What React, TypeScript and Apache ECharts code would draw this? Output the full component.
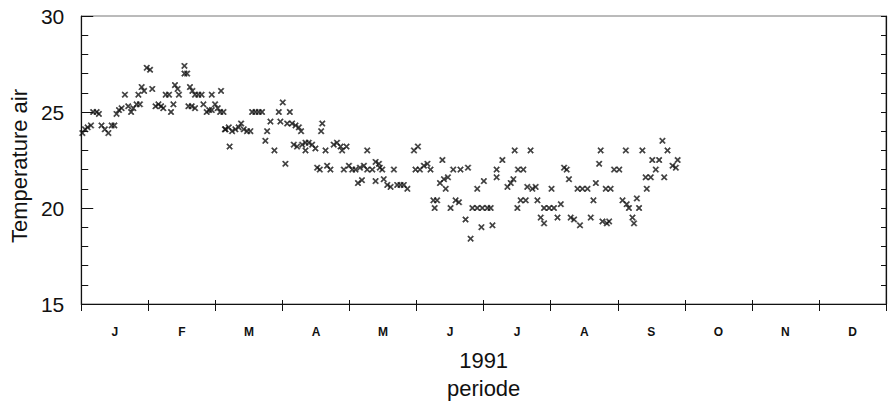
import React, { useEffect, useRef } from "react";
import * as echarts from "echarts";

// x: day of year 1991, y: air temperature (°C)
const months = ["J", "F", "M", "A", "M", "J", "J", "A", "S", "O", "N", "D"];
const yMin = 15;
const yMax = 30;
const xAxisTitle = "1991\nperiode";
const yAxisTitle = "Temperature air";

const janFeb: [number, number][] = [
  [0.5, 23.9], [1.7, 24.1], [2.9, 24.2], [4.4, 24.3], [5.4, 25.0], [7, 25.0], [8, 24.9],
  [9.2, 24.3], [10.7, 24.1], [12.3, 23.9], [13.8, 24.3], [15, 24.3], [16, 24.9], [17.1, 25.1],
  [18.3, 25.2], [19.8, 25.9], [21.3, 25.3], [22.6, 25.0], [23.6, 25.2], [25.1, 25.4], [25.9, 25.9],
  [26.6, 25.4], [27.4, 26.3], [28.5, 26.1], [29.7, 27.3], [31.2, 27.2], [32.2, 26.2], [33.7, 25.3],
  [35, 25.4], [36.2, 25.3], [37.2, 25.2], [38.3, 25.9], [39.8, 25.9], [40.7, 25.0], [41.8, 25.4],
  [42.5, 26.4], [43.7, 26.2], [44.3, 25.9], [46.8, 27.4], [46.8, 27.0], [48, 27.0], [49.3, 26.3],
  [50.4, 26.1], [51.6, 25.9], [53.1, 25.9], [54.6, 25.9], [48.6, 25.3], [50.1, 25.3], [51.6, 25.2],
  [55.4, 25.4], [56.9, 25.0], [58, 25.1], [59.2, 25.9], [59.2, 25.1], [60.7, 25.4], [61.9, 25.2],
  [63.4, 26.1], [63, 25.0], [64.5, 25.0],
];

const marApr: [number, number][] = [
  [65.2, 24.1], [65.4, 24.1], [66.9, 24.2], [68.4, 24.0], [69.9, 24.1], [71.4, 24.2], [72.5, 24.4],
  [73.7, 24.1], [75.2, 24.0], [76.7, 24.0], [67.3, 23.2], [77.5, 25.0], [79, 25.0], [80.5, 25.0],
  [82, 25.0], [84.3, 24.0], [83.5, 23.5], [85.8, 24.5], [87.6, 23.0], [89.6, 25.0], [91.4, 25.5],
  [90.3, 24.5], [92.6, 22.3], [94.6, 25.0], [93.4, 24.4], [95.6, 24.4], [97.2, 24.3], [98.7, 24.2],
  [99.7, 24.0], [96.4, 23.3], [97.9, 23.2], [100.2, 23.3], [101.7, 23.4], [103.2, 23.4], [104.7, 23.3],
  [106.2, 23.1], [101.7, 23.0], [109.3, 24.4], [108.8, 24.0], [107, 22.1], [108.2, 22.0], [110.8, 23.0],
  [111.5, 22.2], [113, 22.0], [114.5, 23.3], [116, 23.4], [117.6, 23.2], [118.3, 23.0], [120.3, 23.2],
];

const mayJun: [number, number][] = [
  [119.1, 22.0], [121.4, 22.2], [122.9, 22.0], [124.4, 22.0], [126.4, 22.1], [128.2, 22.2], [129.7, 22.0],
  [125.5, 21.3], [127.3, 21.45], [129.7, 23.0], [133.5, 22.4], [135, 22.3], [136.5, 22.0], [135.4, 22.1],
  [132, 22.0], [133.5, 21.4], [137.2, 21.5], [138.8, 21.2], [140.3, 21.1], [141.8, 22.0], [143.3, 21.2],
  [144.8, 21.2], [146.3, 21.2], [147.9, 21.0], [150.9, 23.0], [152.7, 23.2], [151.6, 22.0], [153.6, 22.0],
  [155.4, 22.2], [157, 22.3], [158.4, 22.0], [163.8, 22.5], [168.7, 22.0], [172, 22.0], [175.4, 22.1],
  [162.7, 21.3], [164.5, 21.5], [166.3, 21.6], [165.3, 21.0], [159.7, 20.4], [161.4, 20.4], [160.3, 20.0],
  [167.5, 20.0], [169.8, 20.4], [171.3, 20.3], [174.3, 19.4], [176.6, 18.4], [177.4, 20.0], [179.6, 20.0],
  [181.9, 20.0], [184.2, 20.0], [185.7, 20.0], [179.6, 21.0], [182.6, 21.4], [181.5, 19.0],
];

const julSep: [number, number][] = [
  [186.5, 19.1], [188.4, 22.0], [191, 22.5], [188.4, 21.6], [193.3, 21.1], [194.8, 21.3], [196, 21.5],
  [196.6, 23.0], [198.1, 22.0], [200.5, 22.0], [197.8, 20.0], [199.3, 20.4], [201.6, 20.4], [202.3, 21.1],
  [203.8, 23.0], [204.6, 21.0], [206.1, 21.1], [206.9, 20.4], [208.4, 19.5], [209.9, 19.2], [209.9, 20.0],
  [212.2, 20.0], [214.4, 20.0], [217.5, 20.2], [213.3, 21.0], [216, 19.5], [219, 22.1], [220.2, 22.0],
  [221.2, 21.5], [222, 19.5], [223.5, 19.4], [226.2, 19.1], [225.1, 21.0], [227.3, 21.0], [229.6, 21.0],
  [231.1, 19.5], [232.3, 20.4], [233.4, 21.3], [234.9, 22.3], [235.6, 23.0], [236.4, 19.3], [238.4, 19.2],
  [239.4, 19.3], [237.9, 21.0], [240.1, 21.0], [241.7, 22.0], [244, 22.0], [245.5, 20.4], [247.4, 20.2],
  [248.4, 20.0], [247, 23.0], [250, 19.5], [250.7, 19.2], [252, 20.5], [253, 20.0], [254.5, 23.0],
  [256.5, 21.0], [256, 21.6], [258.3, 21.6], [260.6, 22.0], [259, 22.5], [262.1, 22.5], [263.6, 23.5],
  [264.4, 21.6], [265.9, 23.0], [268.2, 22.2], [269.7, 22.1], [270.5, 22.5],
];

const CROSS =
  "path://M0,1.5L1.5,0L5,3.5L8.5,0L10,1.5L6.5,5L10,8.5L8.5,10L5,6.5L1.5,10L0,8.5L3.5,5Z";

const FONT = "'Liberation Sans', Arial, Helvetica, sans-serif";

export default function App() {
  const ref = useRef<HTMLDivElement>(null);

  useEffect(() => {
    if (!ref.current) return;
    const chart = echarts.init(ref.current, null, { renderer: "svg" });
    const allPoints = [...janFeb, ...marApr, ...mayJun, ...julSep];
    chart.setOption({
      animation: false,
      backgroundColor: "#ffffff",
      textStyle: { fontFamily: FONT, color: "#111" },
      grid: {
        left: 81,
        right: 6,
        top: 16,
        bottom: 106,
        show: true,
        borderColor: "#777",
        borderWidth: 1,
      },
      xAxis: [
        {
          type: "category",
          data: months,
          position: "bottom",
          boundaryGap: true,
          axisLine: { show: true, lineStyle: { color: "#111", width: 1.2 } },
          axisTick: { show: true, inside: false, length: 7, lineStyle: { color: "#111" } },
          axisLabel: {
            show: true,
            margin: 22,
            fontSize: 12,
            fontWeight: "bold",
            color: "#111",
            fontFamily: FONT,
          },
          name: xAxisTitle,
          nameLocation: "middle",
          nameGap: 42,
          nameTextStyle: { fontSize: 22, lineHeight: 28, color: "#111", fontFamily: FONT },
          splitLine: { show: false },
        },
        {
          type: "category",
          data: months,
          position: "bottom",
          boundaryGap: true,
          axisLine: { show: false },
          axisTick: { show: true, inside: true, length: 4, lineStyle: { color: "#111" } },
          axisLabel: { show: false },
          splitLine: { show: false },
        },
        {
          type: "value",
          min: 0,
          max: 365,
          show: false,
          position: "bottom",
          splitLine: { show: false },
        },
      ],
      yAxis: [
        {
          type: "value",
          min: yMin,
          max: yMax,
          interval: 5,
          position: "left",
          axisLine: { show: true, lineStyle: { color: "#111", width: 1.2 } },
          axisTick: { show: true, inside: true, length: 12, lineStyle: { color: "#111" } },
          axisLabel: { fontSize: 21, margin: 17, color: "#111", fontFamily: FONT },
          splitLine: { show: false },
          name: yAxisTitle,
          nameLocation: "middle",
          nameGap: 49,
          nameTextStyle: {
            fontSize: 22,
            color: "#111",
            fontFamily: FONT,
            padding: [0, 12, 0, 0],
          },
        },
        {
          type: "value",
          min: yMin,
          max: yMax,
          interval: 1,
          position: "left",
          axisLine: { show: false },
          axisTick: { show: true, inside: true, length: 7, lineStyle: { color: "#111" } },
          axisLabel: { show: false },
          splitLine: { show: false },
        },
        {
          type: "value",
          min: yMin,
          max: yMax,
          interval: 1,
          position: "right",
          axisLine: { show: true, lineStyle: { color: "#111", width: 1.2 } },
          axisTick: { show: true, inside: true, length: 5, lineStyle: { color: "#111" } },
          axisLabel: { show: false },
          splitLine: { show: false },
        },
      ],
      series: [
        {
          type: "scatter",
          xAxisIndex: 2,
          yAxisIndex: 0,
          data: allPoints,
          symbol: CROSS,
          symbolSize: 6,
          itemStyle: { color: "#111", borderColor: "#111", borderWidth: 0.5 },
        },
      ],
    });
    return () => chart.dispose();
  }, []);

  return (
    <div
      ref={ref}
      style={{ position: "absolute", left: 0, top: 0, width: 892, height: 410 }}
    />
  );
}
